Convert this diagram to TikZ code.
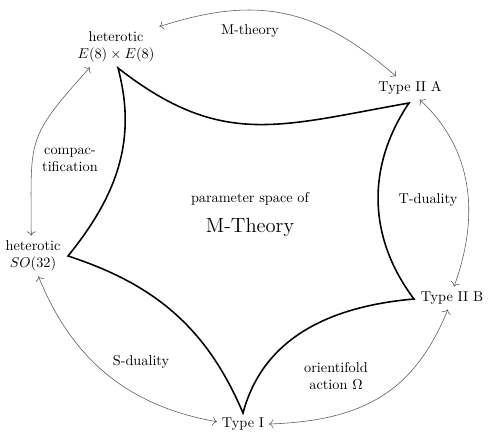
\documentclass[tikz,border=0pt]{standalone}
\usepackage{amsmath}
\usetikzlibrary{arrows.meta}

\begin{document}
\begin{tikzpicture}[x=0.7pt, y=-0.7pt,
          lbl/.style={align=center, font=\normalsize},
          arr/.style={{To[length=3pt]}-{To[length=3pt]}, black!65, line width=0.4pt},
          star/.style={line width=1.1pt, line join=miter}
        ]
        \useasboundingbox (0,0) rectangle (489,436);

        % Theories round the circle
        \node[lbl] (e8)   at (116,47)  {heterotic\\$E(8)\times E(8)$};
        \node[lbl] (iiA)  at (410,88)  {Type II A};
        \node[lbl] (iiB)  at (452,298) {Type II B};
        \node[lbl] (tI)   at (243,424) {Type I};
        \node[lbl] (so32) at (33,256)  {heterotic\\$SO(32)$};

        % Cusps of the moduli space
        \coordinate (cE)  at (118,68);
        \coordinate (cA)  at (409,103);
        \coordinate (cB)  at (414,299);
        \coordinate (cI)  at (243,413);
        \coordinate (cS)  at (68,256);

        \draw[star] (cE) to[out=-38, in=190, looseness=1.15] (cA)
                         to[out=236, in=127] (cB)
                         to[out=185, in=75] (cI)
                         to[out=113, in=-18] (cS)
                         to[out=51, in=-75] (cE) -- cycle;

        % Parameter space
        \node[lbl] (ps) at (250,199) {parameter space of};
        \node[lbl, font=\Large] (mt) at (250,227) {M-Theory};

        % Dualities
        \draw[arr] (e8.north east) to[out=18, in=139, looseness=1.1] (iiA.140);
        \draw[arr] (iiA.-50) to[out=-43, in=70] (iiB.80);
        \draw[arr] (tI.east) to[out=2, in=248, looseness=1.1] (iiB.-110);
        \draw[arr] (so32.-75) to[out=-68, in=170] (tI.175);
        \draw[arr] (e8.218) to[out=228, in=90, looseness=1.4] (so32.95);

        \node[lbl] (mth) at (250,31)  {M-theory};
        \node[lbl] (td)  at (428,200) {T-duality};
        \node[lbl] (ori) at (336,376) {orientifold\\action $\Omega$};
        \node[lbl] (sd)  at (141,362) {S-duality};
        \node[lbl] (cp)  at (70,160)  {compac-\\tification};
      \end{tikzpicture}
\end{document}
